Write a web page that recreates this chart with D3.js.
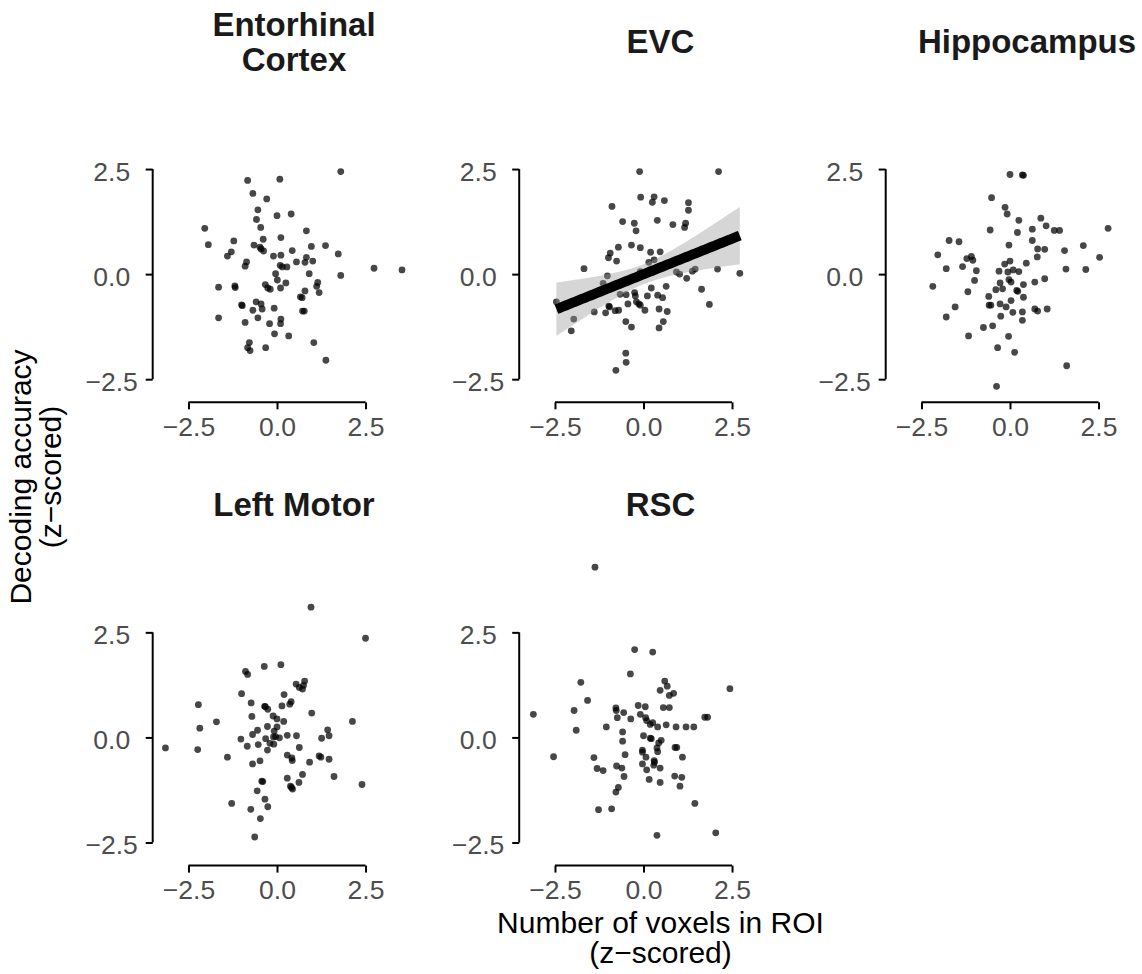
<!DOCTYPE html>
<html>
<head>
<meta charset="utf-8">
<script src="https://cdn.jsdelivr.net/npm/d3@7"></script>
<style>
  body { margin: 0; background: #fff; }
  text { font-family: "Liberation Sans", Arial, sans-serif; }
</style>
</head>
<body>
<div id="chart"></div>
<script>
// values (z-scored voxel count, z-scored decoding accuracy)
const entorhinal = [
  [1.80,2.44],[-0.83,2.23],[0.08,2.26],[-0.68,1.92],[-0.29,1.79],[-0.54,1.53],[0.00,1.39],[0.40,1.43],
  [-0.58,1.30],[-2.04,1.09],[-0.46,1.11],[0.83,1.03],[-1.22,0.79],[-0.39,0.83],[0.11,0.87],[-1.94,0.70],
  [-0.65,0.69],[-0.48,0.64],[-0.45,0.60],[-0.38,0.55],[-1.29,0.53],[-1.40,0.43],[0.43,0.56],[0.97,0.66],
  [1.37,0.68],[-0.10,0.43],[0.11,0.45],[0.83,0.40],[0.55,0.29],[0.79,0.28],[1.01,0.31],[1.73,0.48],
  [-0.86,0.29],[-0.90,0.19],[0.09,0.21],[0.15,0.17],[0.28,0.17],[2.74,0.14],[3.53,0.10],[-0.04,0.01],
  [0.91,0.01],[1.80,-0.03],[0.01,-0.14],[-1.65,-0.31],[-1.19,-0.28],[-1.18,-0.32],[-0.33,-0.25],[-0.26,-0.33],
  [-0.19,-0.36],[0.10,-0.33],[0.25,-0.21],[1.15,-0.20],[1.12,-0.29],[1.19,-0.44],[0.79,-0.40],[0.66,-0.54],
  [0.71,-0.56],[-1.00,-0.73],[-0.98,-0.75],[-0.59,-0.66],[-0.45,-0.71],[-0.68,-0.86],[-0.42,-0.83],[-0.08,-0.81],
  [0.72,-0.88],[0.77,-0.88],[-1.65,-1.04],[-0.54,-1.04],[0.11,-1.07],[-0.90,-1.15],[-0.21,-1.18],[0.10,-1.18],
  [-0.07,-1.42],[0.33,-1.47],[1.04,-1.63],[-0.78,-1.63],[-0.83,-1.75],[-0.76,-1.82],[-0.32,-1.75],[1.38,-2.05]
];
const evc = [
  [-0.11,2.44],[2.12,2.44],[-0.08,1.83],[0.30,1.84],[0.25,1.71],[0.59,1.75],[-0.89,1.61],[1.27,1.70],
  [1.27,1.52],[-0.59,1.25],[-0.26,1.21],[0.39,1.28],[0.83,1.18],[1.19,1.21],[1.16,1.11],[-0.21,1.03],
  [-0.34,0.69],[-0.09,0.63],[-0.71,0.64],[-0.94,0.50],[-0.99,0.39],[-0.76,0.31],[0.20,0.52],[0.47,0.53],
  [0.15,0.28],[0.30,0.34],[-1.68,0.13],[-0.09,0.06],[0.93,0.05],[1.02,0.00],[1.38,0.07],[1.46,0.12],
  [2.09,0.12],[2.72,0.02],[-1.02,-0.04],[1.22,-0.10],[-2.46,-0.66],[-1.14,-0.22],[-0.66,-0.48],[-0.49,-0.49],
  [-0.25,-0.44],[-0.23,-0.52],[0.22,-0.33],[0.11,-0.52],[0.64,-0.29],[0.40,-0.50],[0.54,-0.56],[1.64,-0.36],
  [-0.98,-0.76],[-0.96,-0.78],[-0.44,-0.71],[-0.20,-0.66],[-0.13,-0.71],[-0.09,-0.74],[-1.39,-0.90],[-1.07,-0.92],
  [-0.80,-0.87],[-0.70,-0.86],[0.04,-0.86],[0.44,-0.83],[0.67,-0.89],[1.86,-0.72],[-1.97,-1.07],[-2.04,-1.35],
  [-0.50,-1.13],[-0.34,-1.26],[0.56,-1.13],[0.44,-1.28],[-0.50,-1.88],[-0.49,-2.10],[-0.78,-2.29]
];
const hippocampus = [
  [0.00,2.37],[0.35,2.36],[0.38,2.35],[-0.52,1.82],[-0.14,1.59],[-0.08,1.43],[0.25,1.28],[0.87,1.33],
  [-0.56,1.05],[0.21,0.99],[0.63,1.07],[1.02,1.15],[1.25,1.04],[1.40,1.04],[2.77,1.09],[-1.72,0.80],
  [-1.44,0.77],[0.63,0.80],[-0.03,0.69],[-2.04,0.46],[-1.22,0.37],[-1.09,0.42],[-1.05,0.33],[0.78,0.60],
  [0.98,0.59],[1.54,0.56],[2.07,0.68],[2.53,0.40],[0.77,0.41],[-1.80,0.13],[-1.34,0.18],[-0.95,0.08],
  [-0.15,0.24],[0.00,0.31],[0.46,0.26],[-0.31,0.07],[-0.06,0.05],[0.09,0.10],[0.25,0.06],[1.58,0.12],
  [2.14,0.11],[-2.18,-0.29],[-1.00,-0.15],[-0.03,-0.13],[0.03,-0.19],[-0.28,-0.21],[0.38,-0.25],[0.70,-0.19],
  [0.98,-0.11],[-1.19,-0.42],[-0.40,-0.37],[-0.21,-0.35],[0.19,-0.39],[0.22,-0.41],[-0.60,-0.53],[0.38,-0.55],
  [0.03,-0.63],[-1.55,-0.78],[-0.59,-0.74],[-0.54,-0.74],[-0.28,-0.71],[-0.11,-0.78],[0.70,-0.83],[0.78,-0.88],
  [1.05,-0.83],[-1.80,-1.02],[-0.26,-1.00],[0.08,-0.91],[0.35,-0.90],[0.35,-1.10],[-0.75,-1.27],[-0.49,-1.23],
  [-1.17,-1.47],[-0.04,-1.48],[-0.35,-1.75],[0.13,-1.86],[1.60,-2.18],[-0.38,-2.67]
];
const leftMotor = [
  [0.96,3.10],[2.50,2.36],[0.11,1.73],[-0.36,1.69],[-0.89,1.57],[-0.83,1.50],[0.54,1.27],[0.78,1.34],
  [0.75,1.24],[0.63,1.19],[0.72,1.15],[-1.00,1.04],[0.20,1.02],[-2.22,0.78],[-0.73,0.82],[-0.35,0.74],
  [-0.33,0.73],[-0.26,0.67],[0.14,0.75],[0.36,0.79],[0.40,0.85],[0.98,0.58],[-0.71,0.50],[-0.11,0.51],
  [0.00,0.44],[0.19,0.38],[2.13,0.38],[-1.71,0.37],[-2.18,0.22],[-0.55,0.17],[-0.27,0.26],[0.00,0.25],
  [-0.08,0.15],[1.43,0.18],[-0.69,0.07],[0.29,0.05],[0.55,0.04],[1.47,0.04],[-1.02,-0.04],[-0.32,-0.03],
  [-0.10,0.01],[-0.04,0.02],[0.07,-0.01],[1.26,-0.02],[-3.15,-0.25],[-2.24,-0.29],[-0.84,-0.21],[-0.53,-0.17],
  [-0.27,-0.30],[-0.20,-0.14],[-0.09,-0.16],[0.63,-0.24],[-1.40,-0.47],[0.29,-0.42],[0.42,-0.49],[0.43,-0.55],
  [1.19,-0.44],[1.24,-0.47],[1.47,-0.52],[-0.69,-0.63],[-0.48,-0.56],[0.92,-0.59],[0.72,-0.88],[0.29,-0.97],
  [1.61,-0.93],[-0.43,-1.04],[-0.40,-1.05],[0.62,-1.07],[0.38,-1.16],[0.44,-1.23],[0.41,-1.19],[2.40,-1.12],
  [-0.56,-1.27],[-0.34,-1.47],[-0.26,-1.65],[-1.28,-1.57],[-0.74,-1.71],[-0.47,-1.93],[-0.63,-2.37]
];
const rsc = [
  [-1.37,4.05],[-0.25,2.09],[0.26,2.03],[-0.37,1.51],[-1.77,1.31],[0.60,1.34],[0.67,1.22],[0.47,1.12],
  [0.73,1.00],[0.85,1.05],[2.44,1.16],[-1.58,0.88],[-1.96,0.64],[-3.11,0.55],[-0.78,0.70],[-0.77,0.64],
  [-0.56,0.59],[-0.15,0.76],[0.05,0.73],[0.56,0.71],[0.73,0.71],[-0.09,0.55],[-0.74,0.47],[-0.36,0.44],
  [0.06,0.47],[0.09,0.40],[0.19,0.31],[0.26,0.35],[0.40,0.25],[0.64,0.30],[0.92,0.25],[1.20,0.25],
  [1.42,0.25],[1.73,0.48],[1.81,0.48],[-1.90,0.17],[-1.05,0.25],[-0.59,0.13],[0.00,0.04],[0.19,-0.02],
  [0.22,-0.03],[-0.59,-0.09],[0.50,-0.07],[0.43,-0.13],[-2.54,-0.46],[-0.03,-0.30],[-0.03,-0.35],[0.38,-0.25],
  [0.40,-0.34],[0.07,-0.47],[-0.52,-0.41],[0.89,-0.24],[0.94,-0.24],[1.10,-0.47],[-1.40,-0.48],[-0.03,-0.63],
  [0.30,-0.55],[0.31,-0.59],[0.29,-0.66],[-1.31,-0.74],[-1.14,-0.79],[-0.76,-0.68],[-0.61,-0.73],[0.09,-0.77],
  [0.47,-0.73],[-0.55,-0.93],[0.16,-1.00],[0.47,-1.07],[0.88,-0.92],[1.08,-0.95],[1.03,-1.16],[-0.71,-1.19],
  [-0.78,-1.30],[1.45,-1.57],[-1.27,-1.72],[-0.90,-1.70],[0.38,-2.33],[2.04,-2.27]
];

const roiTitles = [["Entorhinal", "Cortex"], ["EVC"], ["Hippocampus"], ["Left Motor"], ["RSC"]];
const roiData = [entorhinal, evc, hippocampus, leftMotor, rsc];
const withFit = [false, true, false, false, false];
const tickValues = [-2.5, 0, 2.5];

const width = 1142, height = 974;
const panelW = 282.6, panelH = 313.1;
const left0 = 152.7, top0 = 89.2, colStep = 366.5, rowStep = 463.3;

const svg = d3.select('#chart').append('svg')
  .attr('width', width).attr('height', height);

const x = d3.scaleLinear().domain([-3.51, 4.47]).range([0, panelW]);
const y = d3.scaleLinear().domain([-3.05, 4.40]).range([panelH, 0]);
const fmt = d3.format('.1f');

// simple least squares + 95% band, like geom_smooth(method = "lm")
function lmBand(pts) {
  const n = pts.length;
  const mx = d3.mean(pts, d => d[0]), my = d3.mean(pts, d => d[1]);
  const sxx = d3.sum(pts, d => (d[0] - mx) ** 2);
  const sxy = d3.sum(pts, d => (d[0] - mx) * (d[1] - my));
  const b = sxy / sxx, a = my - b * mx;
  const s = Math.sqrt(d3.sum(pts, d => (d[1] - a - b * d[0]) ** 2) / (n - 2));
  const t = 1.99;
  const [lo, hi] = d3.extent(pts, d => d[0]);
  return d3.range(80).map(i => {
    const xv = lo + (hi - lo) * i / 79;
    const fit = a + b * xv;
    const se = s * Math.sqrt(1 / n + (xv - mx) ** 2 / sxx);
    return { x: xv, y: fit, lo: fit - t * se, hi: fit + t * se };
  });
}

roiData.forEach((pts, i) => {
  const col = i % 3, row = Math.floor(i / 3);
  const g = svg.append('g')
    .attr('transform', `translate(${left0 + col * colStep},${top0 + row * rowStep})`);

  // strip title
  const lines = roiTitles[i];
  const title = g.append('text')
    .attr('x', panelW / 2)
    .attr('y', -36.2 - (lines.length - 1) * 17)
    .attr('text-anchor', 'middle')
    .attr('font-size', 33).attr('font-weight', 'bold').attr('fill', '#1a1a1a');
  lines.forEach((l, j) => {
    title.append('tspan').attr('x', panelW / 2).attr('dy', j === 0 ? 0 : 35).text(l);
  });

  g.append('g').selectAll('circle').data(pts).join('circle')
    .attr('cx', d => x(d[0])).attr('cy', d => y(d[1]))
    .attr('r', 3.4).attr('fill', '#000').attr('fill-opacity', 0.72);

  if (withFit[i]) {
    const band = lmBand(pts);
    g.append('path').datum(band)
      .attr('fill', '#999999').attr('fill-opacity', 0.4)
      .attr('d', d3.area().x(d => x(d.x)).y0(d => y(d.lo)).y1(d => y(d.hi)));
    g.append('path').datum(band)
      .attr('fill', 'none').attr('stroke', '#000').attr('stroke-width', 10)
      .attr('d', d3.line().x(d => x(d.x)).y(d => y(d.y)));
  }

  // capped axes: line only spans the outer ticks
  const yAxis = g.append('g')
    .call(d3.axisLeft(y).tickValues(tickValues).tickFormat(fmt).tickSize(7).tickSizeOuter(0));
  yAxis.select('.domain').attr('d', `M0,${y(2.5)}V${y(-2.5)}`);
  const xAxis = g.append('g').attr('transform', `translate(0,${panelH})`)
    .call(d3.axisBottom(x).tickValues(tickValues).tickFormat(fmt).tickSize(7).tickSizeOuter(0));
  xAxis.select('.domain').attr('d', `M${x(-2.5)},0H${x(2.5)}`);

  [yAxis, xAxis].forEach(ax => {
    ax.selectAll('.domain, .tick line').attr('stroke', '#000').attr('stroke-width', 2);
    ax.selectAll('text').attr('font-size', 26.5).attr('fill', '#4d4d4d')
      .style('font-family', '"Liberation Sans", Arial, sans-serif');
  });
  yAxis.selectAll('text').attr('x', -41).attr('text-anchor', 'middle').attr('dy', '0.42em');
  xAxis.selectAll('text').attr('y', 15);
});

// axis titles
const yTitle = svg.append('text')
  .attr('transform', 'translate(31,477) rotate(-90)')
  .attr('text-anchor', 'middle').attr('font-size', 30).attr('fill', '#000');
yTitle.append('tspan').attr('x', 0).attr('dy', 0).text('Decoding accuracy');
yTitle.append('tspan').attr('x', 0).attr('dy', 30).text('(z\u2212scored)');

const xTitle = svg.append('text')
  .attr('x', 660.5).attr('y', 933)
  .attr('text-anchor', 'middle').attr('font-size', 30).attr('fill', '#000');
xTitle.append('tspan').attr('x', 660.5).attr('dy', 0).text('Number of voxels in ROI');
xTitle.append('tspan').attr('x', 660.5).attr('dy', 30).text('(z\u2212scored)');
</script>
</body>
</html>
